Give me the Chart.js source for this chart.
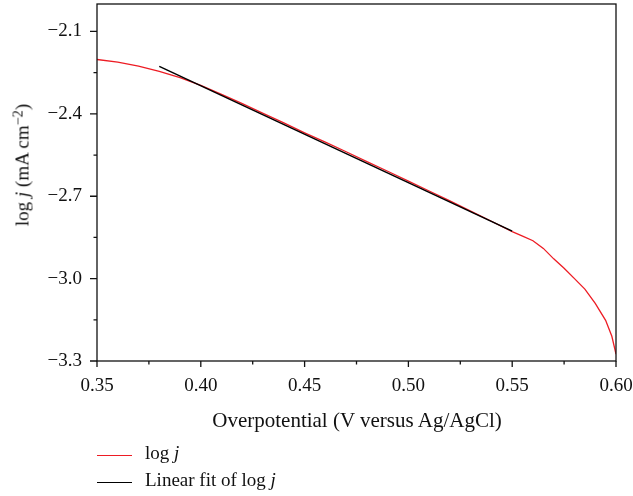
<!DOCTYPE html>
<html>
<head>
<meta charset="utf-8">
<script src="https://cdn.jsdelivr.net/npm/chart.js@4"></script>
<style>
  html, body { margin: 0; padding: 0; background: #fff; }
  #wrap { position: relative; width: 633px; height: 496px; font-family: "Liberation Serif", serif; color: #111; }
  #chart { position: absolute; left: 0; top: 0; }
  .lbl { position: absolute; white-space: nowrap; line-height: 1; }
  #ytitle { left: 22px; top: 165px; font-size: 19px; transform: translate(-50%, -50%) rotate(-90deg); }
  #xtitle { left: 357px; top: 420px; font-size: 21px; transform: translate(-50%, -50%); }
  sup { font-size: 0.75em; vertical-align: 0.45em; line-height: 0; }
  .leg { position: absolute; left: 97px; font-size: 19px; line-height: 1; }
  .leg span.line { position: absolute; left: 0; width: 35px; height: 0; border-top: 1.5px solid; }
  .leg span.txt { position: absolute; left: 48px; white-space: nowrap; }
</style>
</head>
<body>
<div id="wrap">
  <canvas id="chart" width="633" height="496"></canvas>
  <div class="lbl" id="ytitle">log <i>j</i> (mA cm<sup>−2</sup>)</div>
  <div class="lbl" id="xtitle">Overpotential (V versus Ag/AgCl)</div>
  <div class="leg" style="top:455px"><span class="line" style="border-color:#ed1c24"></span><span class="txt" style="top:-12px">log <i>j</i></span></div>
  <div class="leg" style="top:482px"><span class="line" style="border-color:#000"></span><span class="txt" style="top:-12px">Linear fit of log <i>j</i></span></div>
</div>
<script>
// measured log j curve
const xRed = [0.35, 0.36, 0.37, 0.38, 0.39, 0.40, 0.41, 0.42, 0.43, 0.44, 0.45, 0.46, 0.47, 0.48, 0.49, 0.50,
  0.51, 0.52, 0.53, 0.54, 0.55, 0.555, 0.56, 0.565, 0.57, 0.575, 0.58, 0.585, 0.59, 0.595, 0.598, 0.60];
const yRed = [-2.202, -2.212, -2.226, -2.245, -2.268, -2.296, -2.329, -2.363, -2.398, -2.433, -2.469, -2.503,
  -2.538, -2.574, -2.609, -2.645, -2.681, -2.717, -2.754, -2.791, -2.829, -2.845, -2.862, -2.890, -2.928,
  -2.962, -3.000, -3.038, -3.090, -3.152, -3.210, -3.275];

// linear fit end points
const xFit = [0.38, 0.55];
const yFit = [-2.227, -2.827];

// axis ticks
const xTicks = [0.35, 0.40, 0.45, 0.50, 0.55, 0.60];
const xMinor = [0.375, 0.425, 0.475, 0.525, 0.575];
const yTicks = [-3.3, -3.0, -2.7, -2.4, -2.1];
const yMinor = [-3.15, -2.85, -2.55, -2.25];

const tickFont = { family: "Liberation Serif", size: 19 };

// frame + tick marks
const frame = {
  id: "frame",
  afterDraw(chart) {
    const ctx = chart.ctx;
    const a = chart.chartArea;
    const xs = chart.scales.x, ys = chart.scales.y;
    ctx.save();
    ctx.strokeStyle = "#111";
    ctx.lineWidth = 1.3;
    ctx.strokeRect(a.left, a.top, a.right - a.left, a.bottom - a.top);
    ctx.beginPath();
    xTicks.forEach(v => { const p = xs.getPixelForValue(v); ctx.moveTo(p, a.bottom); ctx.lineTo(p, a.bottom + 6); });
    xMinor.forEach(v => { const p = xs.getPixelForValue(v); ctx.moveTo(p, a.bottom); ctx.lineTo(p, a.bottom + 3.5); });
    yTicks.forEach(v => { const p = ys.getPixelForValue(v); ctx.moveTo(a.left, p); ctx.lineTo(a.left - 7, p); });
    yMinor.forEach(v => { const p = ys.getPixelForValue(v); ctx.moveTo(a.left, p); ctx.lineTo(a.left - 3.5, p); });
    ctx.stroke();
    ctx.restore();
  }
};

new Chart(document.getElementById("chart"), {
  type: "line",
  data: {
    datasets: [{
      label: "Linear fit of log j",
      data: xFit.map((x, i) => ({ x: x, y: yFit[i] })),
      borderColor: "#000",
      borderWidth: 1.5,
      pointRadius: 0,
      order: 0
    }, {
      label: "log j",
      data: xRed.map((x, i) => ({ x: x, y: yRed[i] })),
      borderColor: "#ed1c24",
      borderWidth: 1.3,
      pointRadius: 0,
      order: 1
    }]
  },
  options: {
    responsive: false,
    animation: false,
    layout: { padding: { left: 0, top: 4, right: 17, bottom: 0 } },
    plugins: { legend: { display: false }, tooltip: { enabled: false } },
    scales: {
      x: {
        type: "linear",
        min: 0.35,
        max: 0.60,
        afterBuildTicks: s => { s.ticks = xTicks.map(v => ({ value: v })); },
        afterFit: s => { s.height = 135; s.paddingLeft = 0; s.paddingRight = 0; },
        grid: { display: false, drawTicks: false },
        border: { display: false },
        ticks: {
          font: tickFont,
          color: "#111",
          padding: 14,
          maxRotation: 0,
          callback: v => v.toFixed(2)
        }
      },
      y: {
        type: "linear",
        min: -3.3,
        max: -2.0,
        afterBuildTicks: s => { s.ticks = yTicks.map(v => ({ value: v })); },
        afterFit: s => { s.width = 97; s.paddingTop = 0; s.paddingBottom = 0; },
        grid: { display: false, drawTicks: false },
        border: { display: false },
        ticks: {
          font: tickFont,
          color: "#111",
          padding: 15,
          callback: v => v.toFixed(1).replace("-", "\u2212")
        }
      }
    }
  },
  plugins: [frame]
});
</script>
</body>
</html>
